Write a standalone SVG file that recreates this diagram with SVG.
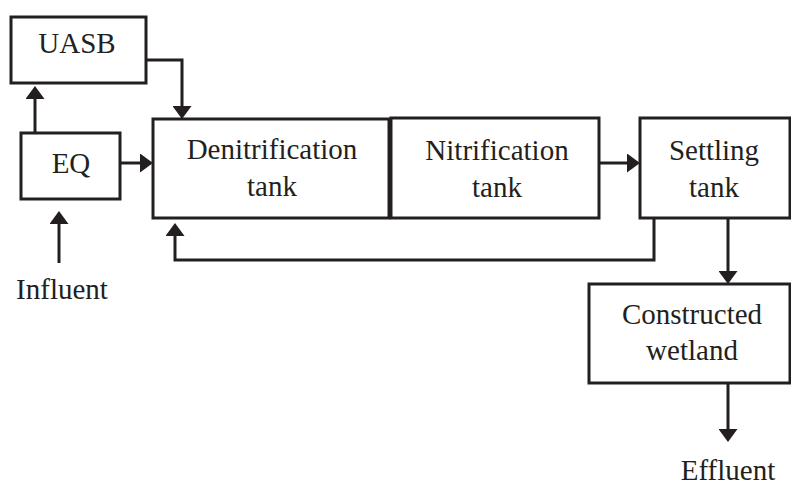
<svg xmlns="http://www.w3.org/2000/svg" width="791" height="485" viewBox="0 0 791 485">
<defs>
<style>
.box{fill:#fff;stroke:#231f20;stroke-width:3}
.ln{fill:none;stroke:#231f20;stroke-width:3;marker-end:url(#ah)}
.t{font-family:'Liberation Serif','Times New Roman','DejaVu Serif',serif;font-size:29px;fill:#231f20;text-anchor:middle}
</style>
<marker id="ah" markerUnits="userSpaceOnUse" viewBox="0 0 13 19" refX="9" refY="9.5" markerWidth="13" markerHeight="19" orient="auto">
<path d="M0,0 L13,9.5 L0,19 Z" fill="#231f20"/>
</marker>
</defs>
<g id="connectors">
<path class="ln" d="M35,133 V90"/>
<path class="ln" d="M146,60 H182 V115"/>
<path class="ln" d="M120,163 H149"/>
<path class="ln" d="M59,263 V215"/>
<path class="ln" d="M599,163 H636"/>
<path class="ln" d="M654,218 V260 H175 V227"/>
<path class="ln" d="M728,218 V280"/>
<path class="ln" d="M728,383 V438"/>
</g>
<g id="uasb"><rect class="box" x="11" y="17" width="135" height="66"/><text class="t" x="77" y="53">UASB</text></g>
<g id="eq"><rect class="box" x="21" y="133" width="99" height="66"/><text class="t" x="71" y="173">EQ</text></g>
<g id="denitrification"><rect class="box" x="153" y="119" width="236" height="99"/><text class="t" x="272" y="159">Denitrification</text><text class="t" x="272" y="196">tank</text></g>
<g id="nitrification"><rect class="box" x="391" y="118" width="208" height="100"/><text class="t" x="497" y="160">Nitrification</text><text class="t" x="497" y="197">tank</text></g>
<g id="settling"><rect class="box" x="640" y="118" width="150" height="100"/><text class="t" x="714" y="160">Settling</text><text class="t" x="714" y="197">tank</text></g>
<g id="wetland"><rect class="box" x="589" y="284" width="201" height="99"/><text class="t" x="692" y="324">Constructed</text><text class="t" x="692" y="360">wetland</text></g>
<g id="influent"><text class="t" x="62" y="299">Influent</text></g>
<g id="effluent"><text class="t" x="728" y="480">Effluent</text></g>
</svg>
